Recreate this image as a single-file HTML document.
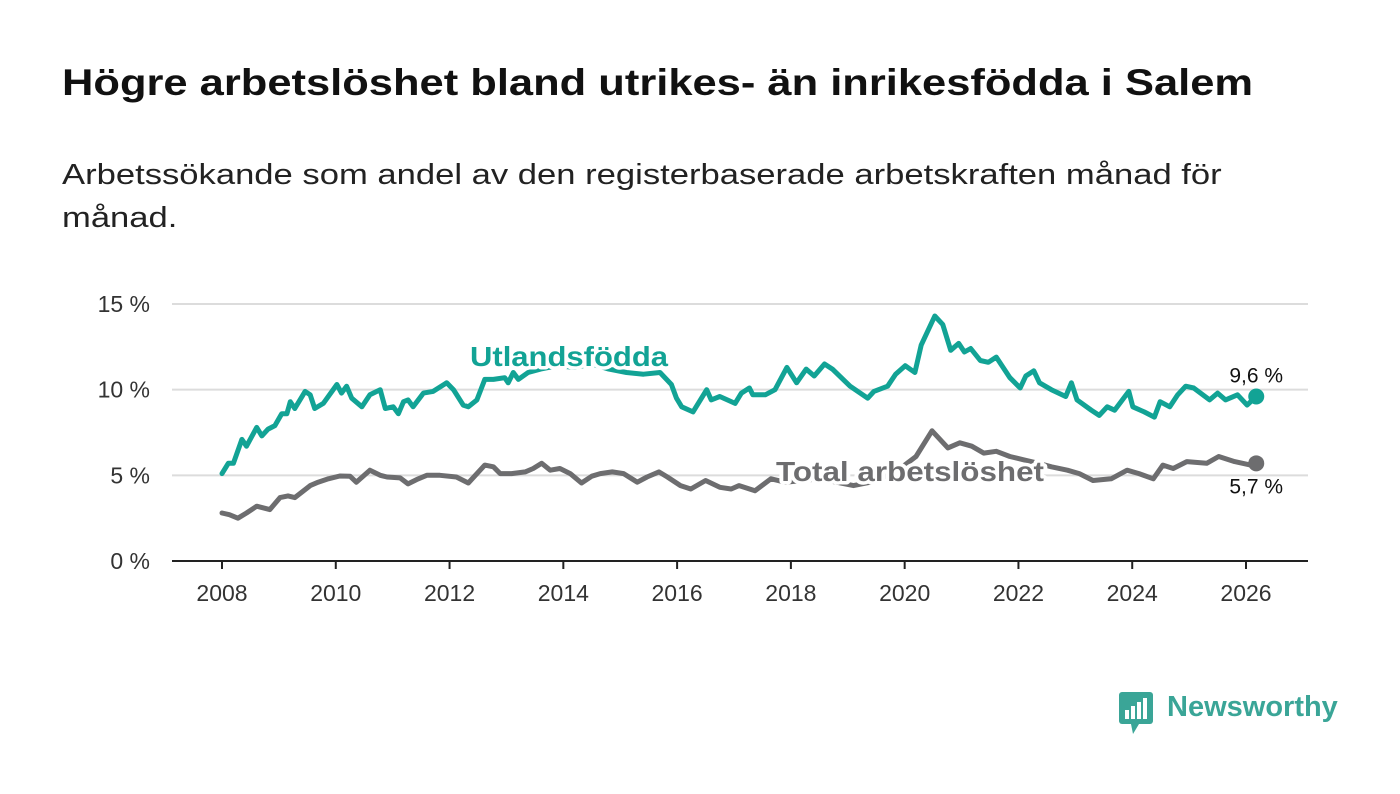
<!DOCTYPE html>
<html><head><meta charset="utf-8">
<style>
html,body{margin:0;padding:0;background:#fff;}
body{width:1400px;height:794px;overflow:hidden;position:relative;font-family:"Liberation Sans",sans-serif;}
#title{position:absolute;left:62px;top:62px;font-size:37px;font-weight:bold;color:#111;margin:0;white-space:nowrap;transform-origin:0 0;transform:scaleX(1.175);}
#subtitle{position:absolute;left:62px;top:154px;font-size:29px;line-height:43px;color:#222;margin:0;white-space:nowrap;transform-origin:0 0;transform:scaleX(1.193);}
svg{position:absolute;left:0;top:0;}
</style></head>
<body>
<h1 id="title">Högre arbetslöshet bland utrikes- än inrikesfödda i Salem</h1>
<p id="subtitle">Arbetssökande som andel av den registerbaserade arbetskraften månad för<br>månad.</p>
<svg id="chart" width="1400" height="794"></svg>
<div style="position:absolute;left:1119px;top:690px;">
  <svg width="36" height="46" style="position:absolute;left:0;top:0">
    <rect x="0" y="2" width="34" height="32" rx="3" fill="#3aa597"/>
    <polygon points="12,34 20,34 14,44" fill="#3aa597"/>
    <rect x="6" y="20" width="4" height="9" fill="#fff"/>
    <rect x="12" y="16" width="4" height="13" fill="#fff"/>
    <rect x="18" y="12" width="4" height="17" fill="#fff"/>
    <rect x="24" y="8" width="4" height="21" fill="#fff"/>
  </svg>
  <span style="position:absolute;left:48px;top:1px;font-size:29px;color:#3aa597;font-weight:bold;white-space:nowrap;">Newsworthy</span>
</div>
<script>
const yTicks = [0, 5, 10, 15];
const yTickLabels = ["0 %", "5 %", "10 %", "15 %"];
const xTicks = [2008, 2010, 2012, 2014, 2016, 2018, 2020, 2022, 2024, 2026];
const foreignYears = [2008.0,2008.11,2008.2,2008.35,2008.43,2008.61,2008.7,2008.81,2008.93,2009.05,2009.14,2009.2,2009.28,2009.46,2009.55,2009.63,2009.78,2010.02,2010.1,2010.19,2010.28,2010.46,2010.6,2010.78,2010.87,2011.01,2011.1,2011.19,2011.27,2011.36,2011.54,2011.71,2011.95,2012.07,2012.24,2012.33,2012.48,2012.62,2012.77,2012.97,2013.03,2013.12,2013.21,2013.38,2013.6,2013.9,2014.2,2014.5,2014.8,2015.11,2015.41,2015.7,2015.9,2015.99,2016.08,2016.28,2016.52,2016.6,2016.75,2017.02,2017.13,2017.27,2017.33,2017.55,2017.72,2017.93,2018.1,2018.27,2018.41,2018.59,2018.73,2019.04,2019.35,2019.46,2019.7,2019.84,2020.01,2020.18,2020.29,2020.53,2020.67,2020.81,2020.95,2021.05,2021.16,2021.33,2021.47,2021.61,2021.85,2022.03,2022.13,2022.27,2022.37,2022.58,2022.83,2022.93,2023.03,2023.28,2023.42,2023.56,2023.69,2023.94,2024.01,2024.21,2024.39,2024.49,2024.66,2024.8,2024.94,2025.08,2025.36,2025.5,2025.64,2025.85,2026.02,2026.18];
const foreignValues = [5.1,5.7,5.7,7.1,6.7,7.8,7.3,7.7,7.9,8.6,8.6,9.3,8.9,9.9,9.7,8.9,9.2,10.3,9.8,10.2,9.5,9.0,9.7,10.0,8.9,9.0,8.6,9.3,9.4,9.0,9.8,9.9,10.4,10.0,9.1,9.0,9.4,10.6,10.6,10.7,10.4,11.0,10.6,11.0,11.2,11.4,11.3,11.5,11.2,11.0,10.9,11.0,10.3,9.5,9.0,8.7,10.0,9.4,9.6,9.2,9.8,10.1,9.7,9.7,10.0,11.3,10.4,11.2,10.8,11.5,11.2,10.2,9.5,9.9,10.2,10.9,11.4,11.0,12.6,14.3,13.8,12.3,12.7,12.2,12.4,11.7,11.6,11.9,10.7,10.1,10.8,11.1,10.4,10.0,9.6,10.4,9.4,8.8,8.5,9.0,8.8,9.9,9.0,8.7,8.4,9.3,9.0,9.7,10.2,10.1,9.4,9.8,9.4,9.7,9.1,9.6];
const totalYears = [2008.0,2008.13,2008.28,2008.43,2008.61,2008.84,2009.02,2009.16,2009.28,2009.55,2009.69,2009.87,2010.07,2010.25,2010.36,2010.6,2010.78,2010.9,2011.13,2011.27,2011.42,2011.6,2011.83,2012.12,2012.33,2012.62,2012.77,2012.89,2013.09,2013.33,2013.47,2013.62,2013.77,2013.94,2014.12,2014.32,2014.5,2014.65,2014.86,2015.06,2015.3,2015.47,2015.68,2015.83,2016.06,2016.24,2016.5,2016.75,2016.95,2017.09,2017.37,2017.65,2017.9,2018.2,2018.5,2018.8,2019.1,2019.4,2019.7,2020.0,2020.2,2020.48,2020.76,2020.97,2021.18,2021.39,2021.61,2021.85,2022.1,2022.35,2022.58,2022.86,2023.07,2023.31,2023.63,2023.91,2024.12,2024.37,2024.54,2024.72,2024.96,2025.31,2025.52,2025.8,2026.08,2026.18];
const totalValues = [2.8,2.7,2.5,2.8,3.2,3.0,3.7,3.8,3.7,4.4,4.6,4.8,4.96,4.95,4.6,5.3,5.0,4.9,4.85,4.5,4.75,5.0,5.0,4.9,4.55,5.6,5.5,5.1,5.1,5.2,5.4,5.7,5.3,5.4,5.1,4.55,4.95,5.1,5.2,5.1,4.6,4.9,5.2,4.9,4.4,4.2,4.7,4.3,4.2,4.4,4.1,4.8,4.6,4.7,4.8,4.6,4.4,4.6,5.0,5.6,6.1,7.6,6.6,6.9,6.7,6.3,6.4,6.1,5.9,5.7,5.5,5.3,5.1,4.7,4.8,5.3,5.1,4.8,5.6,5.4,5.8,5.7,6.1,5.8,5.6,5.7];
const lastForeignLabel = "9,6 %";
const lastTotalLabel = "5,7 %";

const NS = "http://www.w3.org/2000/svg";
const svg = document.getElementById("chart");
const X0 = 172, X1 = 1308;
const xScale = y => 222 + (y - 2008) * (1024 / 18);
const yScale = v => 561 - v * (257 / 15);
function mk(tag, attrs, parent) {
  const e = document.createElementNS(NS, tag);
  for (const k in attrs) e.setAttribute(k, attrs[k]);
  (parent || svg).appendChild(e);
  return e;
}
yTicks.forEach((t, i) => {
  if (t > 0) {
    const g = mk("line", {x1: X0, x2: X1, y1: yScale(t), y2: yScale(t), stroke: "#dcdcdc", "stroke-width": 2});
    
    
  }
  const l = mk("text", {x: 150, y: yScale(t) + 8, "text-anchor": "end", "font-size": 23, fill: "#333", "font-family": "Liberation Sans, sans-serif"});
  l.textContent = yTickLabels[i];
  
  
});
const ax = mk("line", {x1: X0, x2: X1, y1: yScale(0), y2: yScale(0), stroke: "#222", "stroke-width": 2});


xTicks.forEach(t => {
  const tk = mk("line", {x1: xScale(t), x2: xScale(t), y1: yScale(0), y2: yScale(0) + 8, stroke: "#222", "stroke-width": 2});
  
  
  const l = mk("text", {x: xScale(t), y: 601, "text-anchor": "middle", "font-size": 23, fill: "#333", "font-family": "Liberation Sans, sans-serif"});
  l.textContent = t;
  
  
});
function line(xs, vs, color, name) {
  const d = xs.map((x, i) => (i ? "L" : "M") + xScale(x).toFixed(1) + "," + yScale(vs[i]).toFixed(1)).join("");
  const p = mk("path", {d: d, fill: "none", stroke: color, "stroke-width": 5, "stroke-linejoin": "round", "stroke-linecap": "round"});
  
  
  const n = xs.length - 1;
  const c = mk("circle", {cx: xScale(xs[n]), cy: yScale(vs[n]), r: 8, fill: color});
  
  
}
line(totalYears, totalValues, "#6d6d6f", "total-line");
line(foreignYears, foreignValues, "#12a395", "foreign-born-line");
function label(txt, x, y, w, color, name) {
  const t = mk("text", {x: x, y: y, "font-size": 28, "font-weight": "bold", fill: color, stroke: "#fff", "stroke-width": 7, "paint-order": "stroke", "stroke-linejoin": "round", textLength: w, lengthAdjust: "spacingAndGlyphs", "font-family": "Liberation Sans, sans-serif"});
  t.textContent = txt;
  
  
}
label("Utlandsfödda", 470, 366, 198, "#12a395", "foreign-born-series-label");
label("Total arbetslöshet", 776, 481, 268, "#6d6d6f", "total-series-label");
const nF = foreignYears.length - 1, nT = totalYears.length - 1;
const v1 = mk("text", {x: xScale(foreignYears[nF]), y: yScale(foreignValues[nF]) - 14, "text-anchor": "middle", "font-size": 21, fill: "#111", "font-family": "Liberation Sans, sans-serif"});
v1.textContent = lastForeignLabel;


const v2 = mk("text", {x: xScale(totalYears[nT]), y: yScale(totalValues[nT]) + 30, "text-anchor": "middle", "font-size": 21, fill: "#111", "font-family": "Liberation Sans, sans-serif"});
v2.textContent = lastTotalLabel;


</script>
</body></html>
